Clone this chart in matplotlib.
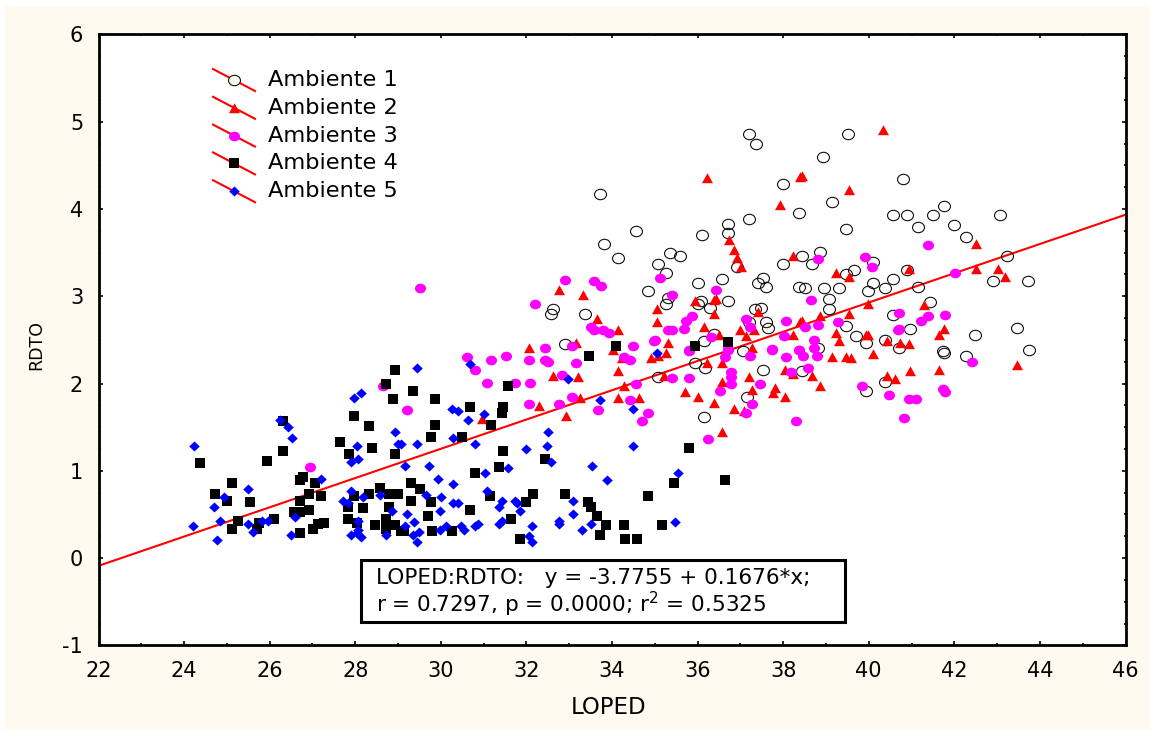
import matplotlib
matplotlib.use("Agg")
import matplotlib.pyplot as plt
import numpy as np
from matplotlib.lines import Line2D
from matplotlib.patches import Rectangle
from matplotlib.path import Path
from matplotlib.transforms import Affine2D
from matplotlib.ticker import MultipleLocator

a1 = [(37.19,4.86),(37.37,4.74),(38.0,4.29),(33.71,4.17),(38.36,3.95),(37.19,3.89),(34.57,3.75),(36.70,3.83),(36.70,3.73),(36.11,3.70),
(33.82,3.60),(34.13,3.44),(35.36,3.49),(35.60,3.46),(35.08,3.37),(35.27,3.27),(38.0,3.37),(36.91,3.33),(36.58,3.20),(36.0,3.15),
(37.54,3.21),(37.42,3.15),(37.61,3.11),(34.85,3.06),(35.32,2.98),(35.27,2.91),(36.07,2.94),(36.0,2.91),(36.28,2.87),(36.70,2.95),
(32.63,2.85),(32.58,2.80),(33.38,2.80),(37.49,2.87),(37.35,2.85),(37.19,2.71),(37.61,2.71),(37.65,2.64),(36.39,2.57),(36.16,2.49),
(38.36,3.11),(39.52,4.86),(38.92,4.59),(40.79,4.34),(39.15,4.08),(40.57,3.93),(40.90,3.93),(41.49,3.93),(41.77,4.03),(41.14,3.79),
(42.0,3.82),(43.07,3.93),(42.28,3.68),(39.48,3.77),(38.85,3.51),(38.45,3.46),(38.68,3.37),(40.11,3.39),(39.66,3.30),(39.48,3.26),
(40.90,3.30),(43.24,3.46),(40.57,3.20),(40.11,3.15),(39.99,3.06),(40.39,3.09),(41.14,3.11),(38.52,3.09),(38.96,3.09),(39.31,3.09),
(39.08,2.97),(39.08,2.85),(41.42,2.93),(40.57,2.78),(42.91,3.18),(43.71,3.18),(39.48,2.66),(39.71,2.54),(40.97,2.62),(39.94,2.47),
(40.39,2.50),(42.49,2.56),(43.47,2.64),(43.75,2.38),(41.74,2.37),(40.71,2.41),(38.82,2.41),(35.95,2.24),(36.18,2.18),(37.07,2.37),
(37.54,2.16),(37.16,1.85),(36.16,1.62),(38.45,2.14),(41.77,2.35),(42.28,2.31),(40.39,2.02),(39.94,1.91),(32.91,2.45),(35.08,2.07)]

a2 = [(36.23,4.35),(37.93,4.05),(38.40,4.37),(36.74,3.65),(36.86,3.53),(36.91,3.44),(37.02,3.34),(38.24,3.46),(32.75,3.07),(33.33,3.01),
(33.66,2.74),(34.13,2.61),(33.17,2.47),(32.07,2.41),(35.04,2.85),(35.04,2.70),(35.32,2.47),(35.95,2.94),(36.44,2.97),(36.39,2.96),
(36.39,2.80),(36.16,2.65),(36.49,2.56),(36.98,2.61),(37.14,2.54),(37.33,2.61),(37.42,2.82),(38.24,2.56),(38.40,2.70),(37.26,2.41),
(40.34,4.90),(38.45,4.38),(39.55,4.22),(39.24,3.27),(39.55,3.22),(40.95,3.31),(42.51,3.60),(42.51,3.31),(43.03,3.31),(43.19,3.22),
(39.99,2.91),(41.30,2.90),(39.55,2.80),(38.85,2.77),(38.45,2.72),(39.24,2.58),(39.31,2.49),(39.94,2.56),(39.99,2.56),(40.43,2.49),
(40.74,2.47),(40.95,2.45),(41.65,2.56),(41.77,2.62),(35.71,1.90),(36.0,1.85),(36.39,1.78),(36.23,2.24),(36.58,2.24),(36.56,2.02),
(37.21,2.07),(37.26,1.93),(36.86,1.71),(37.09,1.69),(36.58,1.45),(37.82,1.95),(37.77,1.89),(38.05,1.85),(38.05,2.16),(38.24,2.11),
(38.68,2.09),(38.85,1.97),(39.15,2.30),(39.48,2.30),(39.59,2.29),(40.11,2.34),(40.43,2.09),(40.62,2.05),(40.97,2.14),(41.65,2.16),
(43.47,2.21),(32.63,2.09),(33.21,2.07),(32.30,1.74),(32.93,1.63),(33.26,1.84),(34.29,1.97),(34.13,2.14),(34.13,1.83),(34.64,1.83),
(34.24,2.29),(34.92,2.29),(35.27,2.35),(35.08,2.31),(35.22,2.09),(30.97,1.59),(34.03,2.39)]

a3 = [(32.89,3.19),(33.59,3.17),(33.75,3.12),(32.21,2.91),(35.13,3.21),(35.41,3.01),(36.44,3.07),(35.86,2.77),(35.74,2.72),(35.69,2.63),
(35.32,2.61),(35.41,2.61),(35.01,2.50),(34.50,2.43),(33.52,2.65),(33.59,2.61),(33.80,2.61),(33.92,2.58),(33.07,2.43),(32.44,2.41),
(36.32,2.53),(37.12,2.74),(37.23,2.65),(38.07,2.72),(38.03,2.55),(37.75,2.40),(38.36,2.39),(36.72,2.40),(35.79,2.38),(41.39,3.59),
(38.82,3.43),(39.92,3.45),(40.08,3.34),(42.02,3.27),(38.66,2.96),(38.50,2.65),(38.82,2.67),(39.29,2.70),(40.71,2.81),(41.39,2.77),
(41.23,2.72),(41.79,2.79),(40.71,2.63),(38.71,2.50),(38.71,2.41),(38.38,2.38),(35.81,2.37),(36.65,2.30),(36.70,2.38),(37.23,2.32),
(37.75,2.39),(38.07,2.30),(38.47,2.32),(38.78,2.32),(36.77,2.13),(36.77,2.07),(36.77,1.99),(36.53,1.92),(35.81,2.06),(37.47,1.99),
(38.19,2.13),(38.59,2.18),(37.28,1.77),(37.12,1.66),(38.31,1.57),(36.25,1.37),(39.85,1.97),(40.48,1.87),(40.93,1.82),(41.11,1.82),
(40.83,1.61),(41.74,1.94),(41.79,1.90),(42.42,2.25),(40.69,2.61),(29.20,1.70),(30.62,2.30),(30.79,2.15),(31.18,2.27),(31.53,2.32),
(32.05,2.27),(32.44,2.27),(32.51,2.25),(33.17,2.23),(32.84,2.10),(31.07,2.01),(31.74,2.01),(32.09,2.01),(32.05,1.77),(32.77,1.77),
(33.07,1.85),(33.68,1.70),(34.43,1.81),(34.55,1.99),(34.83,1.66),(34.71,1.57),(35.41,2.06),(34.27,2.30),(34.43,2.27),(34.99,2.49),
(26.95,1.04),(28.66,1.97),(29.52,3.10)]

a4 = [(24.38,1.09),(25.93,1.11),(26.32,1.23),(26.32,1.57),(25.13,0.86),(24.73,0.73),(25.01,0.66),(25.53,0.64),(25.25,0.42),(25.13,0.33),
(25.76,0.40),(25.71,0.33),(26.11,0.45),(26.72,0.29),(27.02,0.33),(27.14,0.39),(27.26,0.40),(26.56,0.53),(26.72,0.53),(26.91,0.55),
(26.72,0.66),(26.91,0.73),(27.19,0.71),(27.07,0.86),(26.72,0.90),(26.79,0.93),(27.65,1.33),(27.86,1.19),(28.38,1.26),(27.98,1.63),
(28.33,1.51),(28.94,2.15),(28.73,1.99),(28.89,1.82),(28.94,1.19),(27.98,0.71),(28.33,0.73),(28.57,0.80),(27.82,0.59),(28.17,0.57),
(27.82,0.45),(28.05,0.40),(28.45,0.38),(28.73,0.45),(28.94,0.38),(28.73,0.33),(29.06,0.31),(28.78,0.73),(28.78,0.59),(28.99,0.73),
(29.36,1.92),(29.87,1.82),(30.67,1.73),(31.46,1.73),(31.42,1.66),(31.58,1.97),(29.87,1.52),(29.76,1.39),(31.18,1.52),(30.50,1.39),
(31.46,1.23),(32.44,1.14),(31.35,1.04),(30.79,0.97),(29.31,0.86),(29.52,0.79),(29.31,0.66),(29.76,0.64),(29.71,0.48),(30.67,0.55),
(31.14,0.71),(31.98,0.64),(32.16,0.73),(31.65,0.45),(31.86,0.22),(29.80,0.31),(30.27,0.31),(29.13,0.31),(32.89,0.73),(33.45,0.64),
(33.52,0.59),(33.64,0.48),(33.87,0.38),(33.71,0.26),(34.27,0.38),(34.31,0.22),(34.59,0.22),(35.18,0.38),(34.83,0.71),(35.46,0.86),
(35.81,1.26),(33.47,2.32),(34.10,2.43),(35.95,2.43),(36.72,2.48),(36.65,0.90)]

a5 = [(24.24,1.29),(26.25,1.58),(26.42,1.50),(26.53,1.38),(27.21,0.91),(25.50,0.79),(24.94,0.70),(24.71,0.58),(24.83,0.43),(24.20,0.37),
(24.76,0.21),(25.50,0.39),(25.62,0.30),(25.83,0.43),(25.97,0.43),(26.60,0.47),(26.49,0.27),(28.14,1.89),(27.96,1.84),(28.94,1.45),
(28.99,1.31),(28.03,1.29),(28.07,1.13),(27.91,1.10),(27.91,0.77),(28.19,0.70),(28.59,0.72),(27.72,0.65),(27.84,0.63),(28.87,0.54),
(28.07,0.43),(28.07,0.32),(27.91,0.27),(28.14,0.24),(28.71,0.27),(28.03,0.29),(29.45,2.18),(30.69,2.22),(35.04,2.35),(32.98,2.05),
(33.71,1.81),(34.48,1.71),(30.25,1.71),(30.41,1.69),(31.0,1.65),(30.64,1.58),(30.29,1.38),(30.81,1.31),(29.45,1.31),(29.06,1.31),
(32.51,1.45),(32.47,1.29),(32.0,1.25),(34.48,1.29),(32.58,1.10),(31.56,1.03),(31.04,0.98),(33.54,1.05),(33.89,0.89),(35.55,0.98),
(29.73,1.05),(29.17,1.05),(29.94,0.91),(30.29,0.85),(29.66,0.72),(30.01,0.70),(30.29,0.63),(30.41,0.63),(31.09,0.77),(31.44,0.65),
(31.37,0.58),(31.74,0.65),(31.79,0.63),(31.84,0.54),(33.10,0.65),(33.10,0.51),(29.97,0.54),(29.22,0.51),(29.38,0.41),(29.17,0.37),
(29.34,0.27),(29.50,0.30),(29.45,0.18),(29.97,0.32),(30.13,0.37),(30.48,0.37),(30.53,0.32),(30.81,0.37),(30.88,0.39),(31.44,0.43),
(31.37,0.39),(32.12,0.37),(32.07,0.25),(32.12,0.18),(32.75,0.43),(32.75,0.39),(33.31,0.32),(33.50,0.39),(35.48,0.41)]

series_names = ["Ambiente 1", "Ambiente 2", "Ambiente 3", "Ambiente 4", "Ambiente 5"]
intercept = -3.7755
slope = 0.1676
line_x = [22, 46]
ytick_vals = [-1, 0, 1, 2, 3, 4, 5, 6]
ytick_labels = ['-1', '0', '1', '2', '3', '4', '5', '6']
stats_line1 = "LOPED:RDTO:   y = -3.7755 + 0.1676*x;"
stats_line2 = "r = 0.7297, p = 0.0000; r$^2$ = 0.5325"

plt.rcParams['font.family'] = ['DejaVu Sans']
plt.rcParams['mathtext.default'] = 'regular'

W, H = 1150, 730
CREAM = '#FFFAF0'
fig = plt.figure(figsize=(W / 100, H / 100), dpi=100, facecolor='white')
fig.add_artist(Rectangle((5 / W, 0), (W - 5) / W, (H - 6) / H, transform=fig.transFigure,
                         facecolor=CREAM, edgecolor='none', zorder=-10))

L, R, T, B = 98.5, 1125.5, 34.4, 645.4
ax = fig.add_axes([L / W, 1 - B / H, (R - L) / W, (B - T) / H], facecolor='white')

ellipse = Path.unit_circle().transformed(Affine2D().scale(1.15, 1.0))
tri = Path([(-1.05, -0.9), (1.05, -0.9), (0, 1.0), (-1.05, -0.9)], closed=True)
diamond = Path([(0, 1), (1.05, 0), (0, -1), (-1.05, 0), (0, 1)], closed=True)
styles = [
    dict(marker=ellipse, markersize=8.6, mfc='none', mec='#101010', mew=0.8),
    dict(marker=tri, markersize=7.9, mfc='#FF0000', mec='#FF0000', mew=0),
    dict(marker=ellipse, markersize=8.0, mfc='#FF00FF', mec='#FF00FF', mew=0),
    dict(marker='s', markersize=7.6, mfc='black', mec='black', mew=0),
    dict(marker=diamond, markersize=7.6, mfc='#0000FF', mec='#0000FF', mew=0),
]

ax.plot(line_x, [intercept + slope * v for v in line_x], color='#FF0000', lw=1.5, zorder=1)
for i, (pts, st) in enumerate(zip([a1, a2, a3, a4, a5], styles)):
    xs, ys = zip(*pts)
    ax.plot(xs, ys, linestyle='none', zorder=2 + i, clip_on=True, **st)

ax.set_xlim(22, 46)
ax.set_ylim(-1, 6)
ax.xaxis.set_major_locator(MultipleLocator(2))
ax.xaxis.set_minor_locator(MultipleLocator(1))
ax.set_yticks(ytick_vals)
ax.set_yticklabels(ytick_labels)
ax.yaxis.set_minor_locator(MultipleLocator(0.25))
ax.tick_params(which='major', direction='in', length=3, width=1.2, top=True, right=True,
               labelsize=15, pad=11, color='black', labelcolor='black')
ax.tick_params(which='minor', direction='in', length=1.2, width=1.2, top=True, right=True)
for s in ax.spines.values():
    s.set_linewidth(2.0)
ax.set_xlabel("LOPED", fontsize=16.5)
ax.set_ylabel("RDTO", fontsize=12.5)
ax.xaxis.set_label_coords(0.4965, -(708 - B) / (B - T), transform=ax.transAxes)
ax.xaxis.label.set_verticalalignment('center')
ax.yaxis.set_label_coords(-(L - 36) / (R - L), (B - 345) / (B - T), transform=ax.transAxes)
ax.yaxis.label.set_verticalalignment('center')

# legend drawn by hand to get the diagonal keys
for i, (name, st) in enumerate(zip(series_names, styles)):
    yc = 80 + 27.8 * i
    key = Line2D([213 / W, 255 / W], [1 - (yc - 11) / H, 1 - (yc + 11) / H],
                 transform=fig.transFigure, color='#FF0000', lw=1.5, zorder=10)
    fig.add_artist(key)
    st2 = dict(st)
    if i == 0:
        st2['mfc'] = CREAM
    mk = Line2D([234 / W], [1 - yc / H], transform=fig.transFigure, linestyle='none', zorder=11, **st2)
    fig.add_artist(mk)
    fig.text(268 / W, 1 - yc / H, name, fontsize=16.2, va='center', ha='left', zorder=11)

fig.add_artist(Rectangle((361.5 / W, 1 - 621.5 / H), 483 / W, 61.5 / H, transform=fig.transFigure,
                         facecolor='white', edgecolor='black', lw=2.2, zorder=12))
fig.text(376 / W, 1 - 578 / H, stats_line1, fontsize=15.6, va='center', ha='left', zorder=13)
fig.text(376 / W, 1 - 604.5 / H, stats_line2, fontsize=15.6, va='center', ha='left', zorder=13)

fig.savefig('out.png', dpi=100, facecolor=fig.get_facecolor())
